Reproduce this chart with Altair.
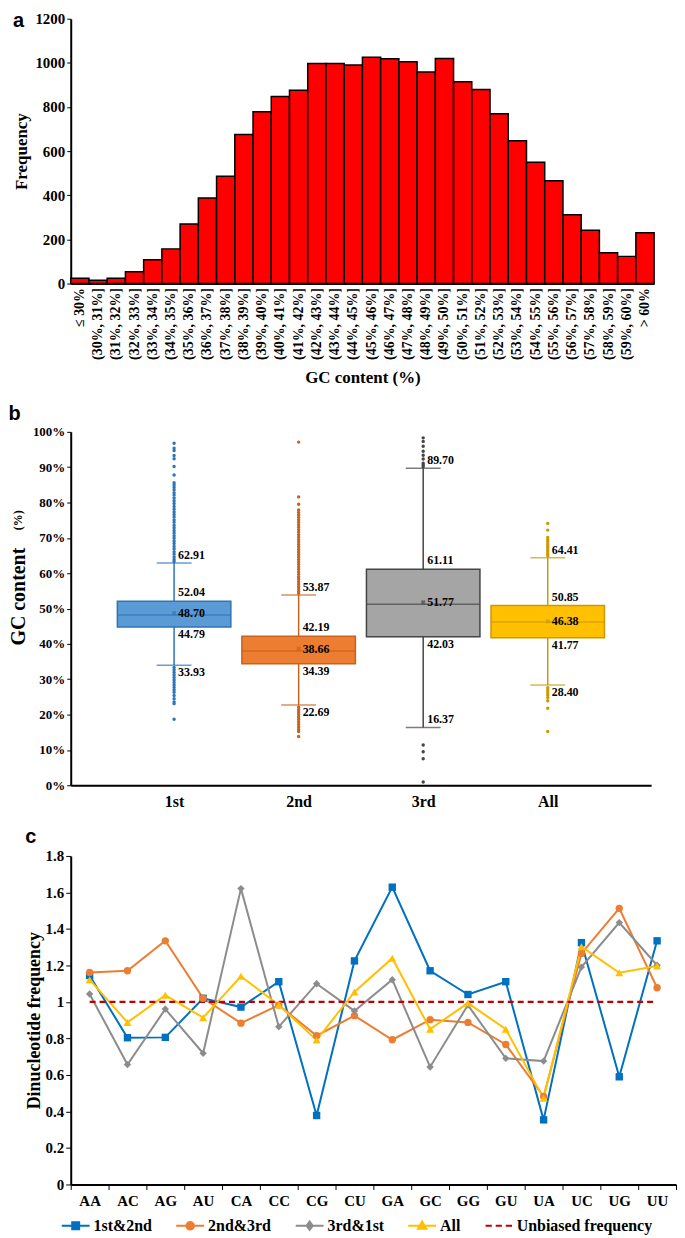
import altair as alt
import pandas as pd

# ---------------- Panel a data ----------------
gc_bins = ["≤ 30%"] + [f"({i}%, {i + 1}%]" for i in range(30, 60)] + ["> 60%"]
gc_freq = [24, 15, 24, 53, 108, 157, 270, 388, 486, 675,
           778, 847, 876, 997, 997, 990, 1025, 1019, 1005, 959,
           1020, 914, 879, 769, 647, 550, 466, 312, 241, 139,
           123, 230]

# ---------------- Panel b data ----------------
groups = ["1st", "2nd", "3rd", "All"]
q1 = [44.79, 34.39, 42.03, 41.77]
q3 = [52.04, 42.19, 61.11, 50.85]
median = [48.2, 38.0, 51.2, 46.2]
mean = [48.70, 38.66, 51.77, 46.38]
whisk_lo = [33.93, 22.69, 16.37, 28.40]
whisk_hi = [62.91, 53.87, 89.70, 64.41]
out_1st = [96.8, 95.4, 94.7, 93.3, 92.4, 90.2, 87.8, 85.6, 85.0, 84.3, 83.6, 82.8,
           82.1, 81.3, 80.5, 79.7, 78.9, 78.1, 77.3, 76.6, 75.9, 75.1, 74.4, 73.6,
           72.9, 72.1, 71.4, 70.6, 69.9, 69.1, 68.4, 67.6, 66.9, 66.1, 65.4, 64.6,
           63.9, 63.3, 33.3, 32.6, 31.9, 31.2, 30.5, 29.8, 29.1, 28.4, 27.7, 27.0,
           26.3, 25.4, 24.5, 23.6, 23.1, 18.7]
out_2nd = [97.1, 81.6, 79.5, 77.9, 77.2, 76.5, 75.8, 75.1, 74.4, 73.7, 73.0, 72.3,
           71.6, 70.9, 70.2, 69.5, 68.8, 68.1, 67.4, 66.7, 66.0, 65.3, 64.6, 63.9,
           63.2, 62.5, 61.8, 61.1, 60.4, 59.7, 59.0, 58.3, 57.6, 56.9, 56.2, 55.5,
           54.8, 54.3, 22.1, 21.4, 20.7, 20.0, 19.3, 18.6, 17.9, 17.2, 16.5, 15.8,
           15.2, 13.8]
out_3rd = [98.3, 97.3, 95.9, 94.5, 93.4, 92.3, 91.1, 90.6, 90.1, 11.4, 9.5, 7.5, 0.9]
out_all = [74.1, 72.2, 70.1, 69.5, 68.9, 68.3, 67.7, 67.2, 66.6, 66.0, 65.4, 64.9,
           27.6, 26.9, 26.2, 25.5, 24.8, 23.9, 21.8, 15.2]
pct_ticks = [0, 10, 20, 30, 40, 50, 60, 70, 80, 90, 100]

box_fill = ["#5b9bd5", "#ed7d31", "#a5a5a5", "#ffc000"]
box_line = ["#2e75b6", "#c8621f", "#454545", "#c99a06"]

# ---------------- Panel c data ----------------
dinuc = ["AA", "AC", "AG", "AU", "CA", "CC", "CG", "CU",
         "GA", "GC", "GG", "GU", "UA", "UC", "UG", "UU"]
s12 = [1.145, 0.804, 0.806, 1.02, 0.972, 1.111, 0.378, 1.225,
       1.629, 1.171, 1.041, 1.111, 0.354, 1.325, 0.590, 1.335]
s23 = [1.162, 1.171, 1.335, 1.02, 0.884, 0.983, 0.815, 0.925,
       0.793, 0.903, 0.888, 0.767, 0.482, 1.266, 1.513, 1.078]
s31 = [1.044, 0.657, 0.961, 0.719, 1.621, 0.864, 1.100, 0.951,
       1.122, 0.644, 0.983, 0.691, 0.676, 1.191, 1.435, 1.201]
s_all = [1.122, 0.888, 1.037, 0.914, 1.141, 0.983, 0.791, 1.055,
         1.240, 0.851, 0.994, 0.851, 0.473, 1.303, 1.160, 1.197]
unbiased = [1, 1, 1, 1, 1, 1, 1, 1, 1, 1, 1, 1, 1, 1, 1, 1]

series_names = ["1st&2nd", "2nd&3rd", "3rd&1st", "All", "Unbiased frequency"]
series_values = [s12, s23, s31, s_all, unbiased]
series_colors = ["#0070c0", "#ed7d31", "#8c8c8c", "#ffc000", "#c00000"]
series_shapes = ["square", "circle", "diamond", "triangle-up", None]

SERIF = "Liberation Serif"
SANS = "Liberation Sans"


def panel_title(t, offset=2):
    return alt.TitleParams(text=t, anchor="start", frame="bounds", font=SANS,
                           fontSize=20, fontWeight="bold", offset=offset, color="black")


# ================= Panel a =================
dfa = pd.DataFrame({"bin": gc_bins, "freq": gc_freq})
chart_a = alt.Chart(dfa, title=panel_title("a", offset=-19)).mark_bar(
    color="#ff0000", stroke="black", strokeWidth=1.5
).encode(
    x=alt.X("bin:N", sort=gc_bins,
            scale=alt.Scale(paddingInner=0, paddingOuter=0),
            axis=alt.Axis(title="GC content (%)", labelAngle=270, ticks=False,
                          labelPadding=4, titlePadding=10, titleFontSize=17,
                          labelFontSize=14, domainWidth=2)),
    y=alt.Y("freq:Q", scale=alt.Scale(domain=[0, 1200]),
            axis=alt.Axis(values=[0, 200, 400, 600, 800, 1000, 1200], format="d",
                          title="Frequency", titleFontSize=17, labelFontSize=15,
                          titlePadding=4, tickSize=4, domainWidth=2)),
).properties(width=586, height=266)

# ================= Panel b =================
dfb = pd.DataFrame({"grp": groups, "q1": q1, "q3": q3, "med": median, "mean": mean,
                    "lo": whisk_lo, "hi": whisk_hi})
out_rows = ([("1st", v) for v in out_1st] + [("2nd", v) for v in out_2nd]
            + [("3rd", v) for v in out_3rd] + [("All", v) for v in out_all])
dfo = pd.DataFrame(out_rows, columns=["grp", "val"])

hb = 355
xb = alt.X("grp:N", sort=groups, scale=alt.Scale(type="point", padding=0.83),
           axis=alt.Axis(title=None, ticks=False, labelAngle=0, labelFontSize=16,
                         labelPadding=8, domainWidth=2))
yscale_b = alt.Scale(domain=[0, 100], nice=False)
yaxis_b = alt.Axis(values=pct_ticks, tickCount=11,
                   labelExpr="datum.value + '%'", title="GC content", labelOverlap=False,
                   titleFontSize=20, labelFontSize=13, titlePadding=4, tickSize=4,
                   domainWidth=2, titleY=round(0.464 * hb))


def yb(field):
    return alt.Y(field, scale=yscale_b, axis=yaxis_b)


line_col = alt.Color("grp:N", scale=alt.Scale(domain=groups, range=box_line), legend=None)

base_b = alt.Chart(dfb)
whisk = base_b.mark_rule(strokeWidth=1.5).encode(
    x=xb, y=yb("lo:Q"), y2="hi:Q", color=line_col)
box = base_b.mark_bar(size=114, strokeWidth=1.5).encode(
    x=xb, y=yb("q1:Q"), y2="q3:Q",
    fill=alt.Fill("grp:N", scale=alt.Scale(domain=groups, range=box_fill), legend=None),
    stroke=alt.Stroke("grp:N", scale=alt.Scale(domain=groups, range=box_line), legend=None))
med = base_b.mark_tick(size=114, thickness=1.5).encode(x=xb, y=yb("med:Q"), color=line_col)
cap_hi = base_b.mark_tick(size=35, thickness=1.5).encode(x=xb, y=yb("hi:Q"), color=line_col)
cap_lo = base_b.mark_tick(size=35, thickness=1.5).encode(x=xb, y=yb("lo:Q"), color=line_col)
mean_pt = base_b.mark_point(shape="cross", angle=45, size=22, filled=True).encode(
    x=xb, y=yb("mean:Q"), color=line_col)
outl = alt.Chart(dfo).mark_circle(size=12, opacity=1).encode(x=xb, y=yb("val:Q"), color=line_col)

txt = dict(font=SERIF, fontWeight="bold", fontSize=12, color="black", align="left", dx=4)
t_hi = base_b.mark_text(baseline="bottom", dy=-1, **txt).encode(
    x=xb, y=yb("hi:Q"), text=alt.Text("hi:Q", format=".2f"))
t_q3 = base_b.mark_text(baseline="bottom", dy=-2, **txt).encode(
    x=xb, y=yb("q3:Q"), text=alt.Text("q3:Q", format=".2f"))
t_mean = base_b.mark_text(baseline="middle", **txt).encode(
    x=xb, y=yb("mean:Q"), text=alt.Text("mean:Q", format=".2f"))
t_q1 = base_b.mark_text(baseline="top", dy=2, **txt).encode(
    x=xb, y=yb("q1:Q"), text=alt.Text("q1:Q", format=".2f"))
t_lo_below = base_b.transform_filter(alt.datum.grp != "3rd").mark_text(
    baseline="top", dy=2, **txt).encode(x=xb, y=yb("lo:Q"), text=alt.Text("lo:Q", format=".2f"))
t_lo_above = base_b.transform_filter(alt.datum.grp == "3rd").mark_text(
    baseline="bottom", dy=-1, **txt).encode(x=xb, y=yb("lo:Q"), text=alt.Text("lo:Q", format=".2f"))
pct = alt.Chart(pd.DataFrame({"t": ["(%)"], "v": [75]})).mark_text(
    angle=270, font=SERIF, fontWeight="bold", fontSize=12, color="black"
).encode(x=alt.value(-53), y=yb("v:Q"), text="t:N")

chart_b = alt.layer(whisk, outl, box, med, cap_hi, cap_lo, mean_pt,
                    t_hi, t_q3, t_mean, t_q1, t_lo_below, t_lo_above, pct,
                    title=panel_title("b")).properties(width=583, height=hb)

# ================= Panel c =================
rows = []
for name, vals in zip(series_names, series_values):
    for d, v in zip(dinuc, vals):
        rows.append({"series": name, "dinuc": d, "val": v})
dfc = pd.DataFrame(rows)

hc = 330
xc = alt.X("dinuc:N", sort=dinuc, scale=alt.Scale(paddingInner=0, paddingOuter=0),
           axis=alt.Axis(title=None, tickBand="extent", labelAngle=0, tickSize=5,
                         domainWidth=2, labelFontSize=15, labelPadding=4))
yc = alt.Y("val:Q", scale=alt.Scale(domain=[0, 1.8]),
           axis=alt.Axis(values=[0, 0.2, 0.4, 0.6, 0.8, 1, 1.2, 1.4, 1.6, 1.8],
                         format=".1~f", title="Dinucleotide frequency", titleFontSize=18,
                         labelFontSize=15, titlePadding=2, tickSize=5, domainWidth=2))

layers_c = []
for name, col, shp in zip(series_names, series_colors, series_shapes):
    base = alt.Chart(dfc).transform_filter(alt.datum.series == name)
    if shp is None:
        layers_c.append(base.mark_line(color=col, strokeWidth=2.2, strokeDash=[6, 4]).encode(x=xc, y=yc))
    else:
        layers_c.append(base.mark_line(color=col, strokeWidth=2).encode(x=xc, y=yc))
for name, col, shp in zip(series_names, series_colors, series_shapes):
    if shp is None:
        continue
    base = alt.Chart(dfc).transform_filter(alt.datum.series == name)
    sz = 65 if shp == "triangle-up" else 55
    layers_c.append(base.mark_point(filled=True, color=col, shape=shp, size=sz, opacity=1).encode(x=xc, y=yc))

# legend-only layer (clipped outside the plot), symbols = line + marker
leg_paths = [
    "M-1,0H1M-0.25,-0.25H0.25V0.25H-0.25Z",
    "M-1,0H1M0.27,0A0.27,0.27,0,1,1,-0.27,0A0.27,0.27,0,1,1,0.27,0Z",
    "M-1,0H1M0,-0.3L0.22,0L0,0.3L-0.22,0Z",
    "M-1,0H1M0,-0.3L0.3,0.22L-0.3,0.22Z",
    "M-0.95,0H-0.5M-0.22,0H0.22M0.5,0H0.95",
]
dfl = pd.DataFrame({"series": series_names, "dinuc": ["AA"] * 5, "val": [-1] * 5})
leg_layer = alt.Chart(dfl).mark_point(filled=True, clip=True, size=30).encode(
    x=xc, y=yc,
    fill=alt.Fill("series:N", scale=alt.Scale(domain=series_names, range=series_colors), title=None),
    stroke=alt.Stroke("series:N", scale=alt.Scale(domain=series_names, range=series_colors), title=None),
    shape=alt.Shape("series:N", scale=alt.Scale(domain=series_names, range=leg_paths), title=None),
)
layers_c.append(leg_layer)

chart_c = alt.layer(*layers_c, title=panel_title("c")).properties(width=608, height=hc)

chart = alt.concat(chart_a, chart_b, chart_c, columns=1, spacing=18).resolve_scale(
    color="independent", fill="independent", stroke="independent", shape="independent",
    x="independent", y="independent"
).properties(
    padding={"left": 0, "top": 0, "right": 0, "bottom": 0}
).configure_view(stroke=None).configure_axis(
    labelFont=SERIF, labelFontWeight="bold", labelColor="black",
    titleFont=SERIF, titleFontWeight="bold", titleColor="black",
    domainColor="black", tickColor="black", grid=False
).configure_legend(
    orient="none", legendX=-10, legendY=hc + 26, direction="horizontal",
    symbolSize=784, symbolStrokeWidth=2, labelFont=SERIF, labelFontWeight="bold",
    labelFontSize=16, labelColor="black", labelOffset=3, columnPadding=20,
    symbolOpacity=1
)

chart.save("out.html", embed_options={"renderer": "svg", "actions": False})
